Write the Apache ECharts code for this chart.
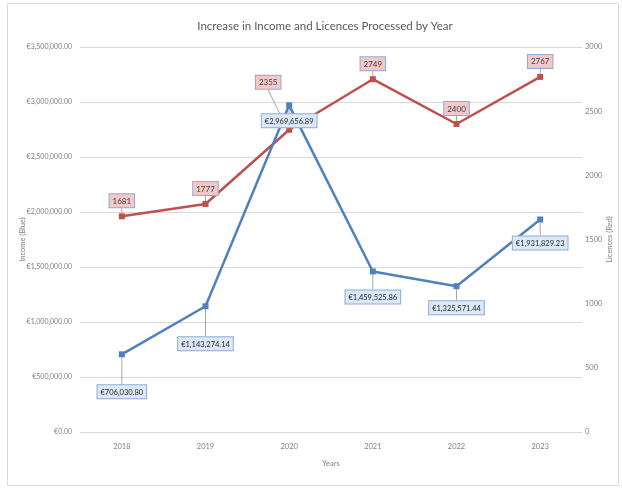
<!DOCTYPE html>
<html>
<head>
<meta charset="utf-8">
<script src="https://cdn.jsdelivr.net/npm/echarts@6/dist/echarts.min.js"></script>
<style>
  html, body { margin: 0; padding: 0; background: #fff; }
  #chart { width: 622px; height: 488px; }
</style>
</head>
<body>
<div id="chart"></div>
<script>
// data
const years = ['2018', '2019', '2020', '2021', '2022', '2023'];
const income = [706030.80, 1143274.14, 2969656.89, 1459525.86, 1325571.44, 1931829.23];
const licences = [1681, 1777, 2355, 2749, 2400, 2767];

const font = 'Lato, "Open Sans", sans-serif';
const grey = '#808080';

const euro = v => '€' + v.toLocaleString('en-US', { minimumFractionDigits: 2, maximumFractionDigits: 2 });

const chart = echarts.init(document.getElementById('chart'));
chart.setOption({
  animation: false,
  title: {
    text: 'Increase in Income and Licences Processed by Year',
    left: 320,
    textAlign: 'center',
    top: 15,
    textStyle: { fontFamily: font, fontSize: 11.5, fontWeight: 'normal', color: '#595959' }
  },
  graphic: [{
    type: 'rect',
    shape: { x: 7.5, y: 3.5, width: 611, height: 482 },
    style: { fill: 'none', stroke: '#d9d9d9', lineWidth: 1 },
    z: -1
  }],
  grid: { left: 80, right: 40, top: 47, bottom: 56, outerBoundsMode: 'none', containLabel: false },
  xAxis: {
    type: 'category',
    data: years,
    name: 'Years',
    nameLocation: 'middle',
    nameGap: 28,
    nameMoveOverlap: false,
    nameTextStyle: { fontFamily: font, fontSize: 7.5, color: grey },
    axisLine: { lineStyle: { color: '#d9d9d9' } },
    axisTick: { show: false },
    axisLabel: { fontFamily: font, fontSize: 7.5, color: grey, margin: 11 }
  },
  yAxis: [{
    type: 'value',
    min: 0, max: 3500000, interval: 500000,
    name: 'Income (Blue)',
    nameLocation: 'middle',
    nameRotate: 90,
    nameGap: 53,
    nameMoveOverlap: false,
    nameTextStyle: { fontFamily: font, fontSize: 7.5, color: grey },
    axisLabel: { fontFamily: font, fontSize: 7, color: grey, margin: 8, formatter: v => euro(v) },
    splitLine: { lineStyle: { color: '#d9d9d9' } }
  }, {
    type: 'value',
    min: 0, max: 3000, interval: 500,
    name: 'Licences (Red)',
    nameLocation: 'middle',
    nameRotate: 90,
    nameGap: 24,
    nameMoveOverlap: false,
    nameTextStyle: { fontFamily: font, fontSize: 7.5, color: grey },
    axisLabel: { fontFamily: font, fontSize: 7.5, color: grey, margin: 3, formatter: v => String(v) },
    splitLine: { show: false }
  }],
  series: [{
    name: 'Licences',
    type: 'line',
    yAxisIndex: 1,
    data: licences,
    color: '#c0504d',
    lineStyle: { width: 2.5 },
    symbol: 'rect',
    symbolSize: 6,
    label: {
      show: true,
      position: 'top',
      distance: 6,
      fontFamily: font, fontSize: 8, color: '#404040',
      backgroundColor: '#f2c9c8',
      borderColor: '#8eaadb', borderWidth: 1,
      padding: [3, 3, 2, 3]
    },
    labelLine: { show: true, lineStyle: { color: '#a6a6a6', width: 1 } },
    labelLayout: p => p.dataIndex === 2 ? { dx: -21, dy: -32 } : {}
  }, {
    name: 'Income',
    type: 'line',
    yAxisIndex: 0,
    data: income,
    color: '#4f81bd',
    lineStyle: { width: 2.5 },
    symbol: 'rect',
    symbolSize: 6,
    label: {
      show: true,
      position: 'bottom',
      distance: 6,
      formatter: p => euro(p.value),
      fontFamily: font, fontSize: 7.5, color: '#262626',
      backgroundColor: '#dce8f6',
      borderColor: '#8eaadb', borderWidth: 1,
      padding: [3, 3, 2, 3]
    },
    labelLine: { show: true, lineStyle: { color: '#a6a6a6', width: 1 } },
    labelLayout: p => {
      const dy = [22, 22, 0, 10, 6, 8][p.dataIndex];
      return { dy: dy };
    }
  }]
});
</script>
</body>
</html>
